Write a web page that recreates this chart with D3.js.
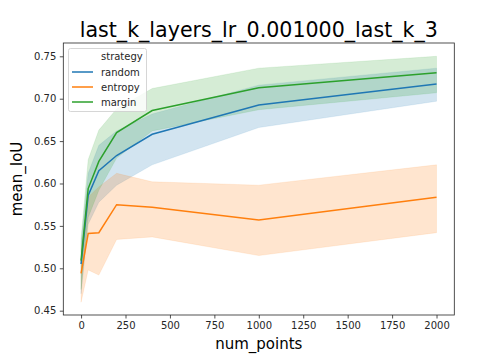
<!DOCTYPE html>
<html><head><meta charset="utf-8">
<script src="https://cdn.jsdelivr.net/npm/d3@7"></script>
<style>body{margin:0;background:#fff}svg{display:block}text{font-family:"DejaVu Sans",sans-serif}</style>
</head><body><svg id="c" width="504" height="360"></svg>
<script>
const numPoints = [0, 40, 100, 200, 400, 1000, 2000];
const strategies = ["random", "entropy", "margin"];
const colors = ["#1f77b4", "#ff7f0e", "#2ca02c"];
const randomMean  = [0.505, 0.586, 0.615, 0.633, 0.658, 0.6926, 0.7173];
const randomLow   = [0.470, 0.552, 0.578, 0.598, 0.622, 0.666, 0.697];
const randomHigh  = [0.530, 0.612, 0.645, 0.662, 0.682, 0.716, 0.736];
const entropyMean = [0.494, 0.541, 0.542, 0.575, 0.572, 0.557, 0.5837];
const entropyLow  = [0.460, 0.498, 0.492, 0.534, 0.537, 0.515, 0.542];
const entropyHigh = [0.522, 0.584, 0.596, 0.612, 0.602, 0.598, 0.622];
const marginMean  = [0.509, 0.594, 0.626, 0.660, 0.686, 0.713, 0.7307];
const marginLow   = [0.475, 0.560, 0.592, 0.630, 0.662, 0.687, 0.707];
const marginHigh  = [0.535, 0.628, 0.663, 0.688, 0.712, 0.736, 0.750];
const xTicks = [0, 250, 500, 750, 1000, 1250, 1500, 1750, 2000];
const yTicks = [0.45, 0.50, 0.55, 0.60, 0.65, 0.70, 0.75];

const series = [
  {name: "random", mean: randomMean, lo: randomLow, hi: randomHigh},
  {name: "entropy", mean: entropyMean, lo: entropyLow, hi: entropyHigh},
  {name: "margin", mean: marginMean, lo: marginLow, hi: marginHigh}
];

const svg = d3.select("#c");
const L = 63.3, R = 454.3, T = 43, B = 315;
const x = d3.scaleLinear().domain([-100, 2100]).range([L, R]);
const y = d3.scaleLinear().domain([0.4449, 0.7657]).range([B, T]);

const g = svg.append("g");
series.forEach((s, i) => {
  const area = d3.area().x((d, j) => x(numPoints[j])).y0((d, j) => y(s.lo[j])).y1((d, j) => y(s.hi[j]));
  g.append("path").datum(s.mean).attr("d", area).attr("fill", colors[i]).attr("fill-opacity", 0.2)
    .attr("stroke", colors[i]).attr("stroke-opacity", 0.2).attr("stroke-width", 0.5);
});
series.forEach((s, i) => {
  const line = d3.line().x((d, j) => x(numPoints[j])).y(d => y(d));
  g.append("path").datum(s.mean).attr("d", line).attr("fill", "none").attr("stroke", colors[i]).attr("stroke-width", 1.5);
});

const xa = svg.append("g").attr("transform", `translate(0,${B})`)
  .call(d3.axisBottom(x).tickValues(xTicks).tickFormat(d3.format("d")).tickSize(3.5).tickPadding(3.5));
const ya = svg.append("g").attr("transform", `translate(${L},0)`)
  .call(d3.axisLeft(y).tickValues(yTicks).tickFormat(d3.format(".2f")).tickSize(3.5).tickPadding(3.5));
[xa, ya].forEach(a => {
  a.select(".domain").remove();
  a.selectAll("text").attr("font-size", 10).attr("fill", "#262626").attr("font-family", "DejaVu Sans");
  a.selectAll("line").attr("stroke", "#262626").attr("stroke-width", 0.8);
});
svg.append("rect").attr("x", L).attr("y", T).attr("width", R - L).attr("height", B - T)
  .attr("fill", "none").attr("stroke", "#262626").attr("stroke-width", 0.8);

svg.append("text").attr("x", (L + R) / 2).attr("y", 37).attr("text-anchor", "middle")
  .attr("font-size", 20.6).attr("fill", "#000").text("last_k_layers_lr_0.001000_last_k_3");
svg.append("text").attr("x", (L + R) / 2).attr("y", 349).attr("text-anchor", "middle")
  .attr("font-size", 15).attr("fill", "#000").text("num_points");
svg.append("text").attr("transform", `translate(22,${(T + B) / 2}) rotate(-90)`).attr("text-anchor", "middle")
  .attr("font-size", 15).attr("fill", "#000").text("mean_IoU");

// legend
const lg = svg.append("g");
lg.append("rect").attr("x", 68.5).attr("y", 48.5).attr("width", 78).attr("height", 63).attr("rx", 2)
  .attr("fill", "#fff").attr("fill-opacity", 0.8).attr("stroke", "#cccccc").attr("stroke-width", 0.8);
lg.append("text").attr("x", 101).attr("y", 60).attr("font-size", 10).attr("fill", "#262626").text("strategy");
strategies.forEach((name, i) => {
  const yy = 72 + i * 15;
  lg.append("line").attr("x1", 72).attr("x2", 93).attr("y1", yy).attr("y2", yy)
    .attr("stroke", colors[i]).attr("stroke-width", 1.5);
  lg.append("text").attr("x", 101).attr("y", yy + 3.5).attr("font-size", 10).attr("fill", "#262626").text(name);
});
</script></body></html>
